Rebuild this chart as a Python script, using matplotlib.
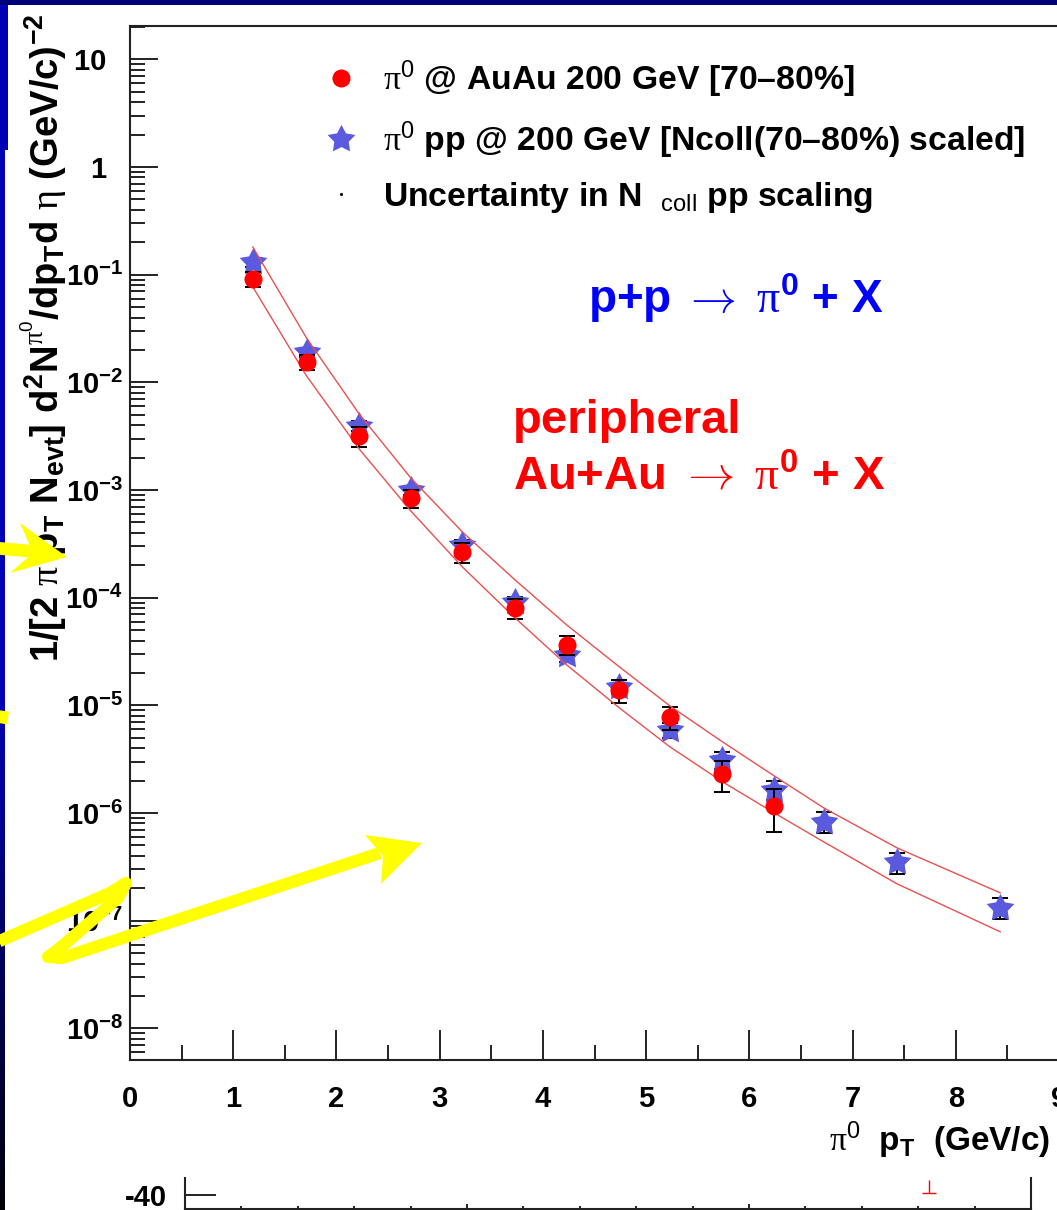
import matplotlib
matplotlib.use("Agg")
import matplotlib.pyplot as plt
import numpy as np
from matplotlib.ticker import MultipleLocator, LogLocator, NullFormatter, FuncFormatter, FixedLocator
from matplotlib.patches import Polygon, Rectangle
from matplotlib.lines import Line2D

plt.rcParams['font.family'] = ['Liberation Sans', 'DejaVu Sans']
plt.rcParams['font.weight'] = 'bold'
plt.rcParams['mathtext.fontset'] = 'custom'
plt.rcParams['mathtext.rm'] = 'Liberation Sans:bold'
plt.rcParams['mathtext.bf'] = 'Liberation Sans:bold'
plt.rcParams['mathtext.it'] = 'Liberation Serif:italic'
plt.rcParams['mathtext.sf'] = 'Liberation Sans:normal'
plt.rcParams['mathtext.tt'] = 'Liberation Serif:normal'
plt.rcParams['mathtext.cal'] = 'cmr10'
plt.rcParams['mathtext.default'] = 'rm'

W, H = 1057, 1210

# pi0 pT bins (GeV/c)
pt = [1.19, 1.71, 2.22, 2.72, 3.22, 3.73, 4.23, 4.74, 5.23, 5.74, 6.24, 6.72, 7.43, 8.43]

# peripheral AuAu (70-80%) yields, first 11 bins
auau = [0.091, 0.0155, 3.2e-3, 8.45e-4, 2.66e-4, 8.0e-5, 3.65e-5, 1.39e-5, 7.8e-6, 2.31e-6, 1.17e-6]
auau_rel = [0.16, 0.16, 0.21, 0.19, 0.21, 0.21, 0.20, 0.25, 0.24, 0.32, 0.43]

# pp scaled by Ncoll
pp = [0.131, 0.0191, 3.94e-3, 1.0e-3, 3.09e-4, 9.1e-5, 2.94e-5, 1.49e-5, 5.9e-6, 3.1e-6, 1.64e-6, 8.3e-7, 3.5e-7, 1.32e-7]
pp_rel = [0.10, 0.10, 0.10, 0.10, 0.12, 0.12, 0.14, 0.15, 0.16, 0.18, 0.20, 0.22, 0.22, 0.22]

# Ncoll uncertainty band (upper / lower edge)
band_hi = [0.1807, 0.02582, 5.09e-3, 1.295e-3, 4.08e-4, 1.463e-4, 5.59e-5, 2.28e-5, 9.89e-6,
           4.58e-6, 2.215e-6, 1.117e-6, 4.75e-7, 1.815e-7]
band_lo = [0.0769, 0.01147, 2.407e-3, 6.39e-4, 1.931e-4, 6.49e-5, 2.377e-5, 9.48e-6, 4.12e-6,
           1.949e-6, 1.004e-6, 5.40e-7, 2.20e-7, 7.89e-8]

# clipped point in the lower pad
stub_x = [13.2]
stub_top = [-34.7]
stub_bot = [-39.3]


def fx(px):
    return px / W


def fy(py):
    return 1 - py / H


# fat five-pointed star like ROOT marker 29
ang = np.pi / 2 + np.arange(10) * np.pi / 5
rad = np.where(np.arange(10) % 2 == 0, 1.0, 0.52)
star_shape = list(zip(rad * np.cos(ang), rad * np.sin(ang)))

fig = plt.figure(figsize=(W / 100, H / 100), dpi=100)
fig.patch.set_facecolor('white')

# slide background strips
bg = fig.add_axes([0, 0, 1, 1], zorder=-10)
bg.set_xlim(0, W)
bg.set_ylim(H, 0)
bg.axis('off')
grad = np.concatenate([np.full(700, 0.72), np.linspace(0.72, 0.03, 510)])
img = np.zeros((H, 1, 3))
img[:, 0, 2] = grad
bg.imshow(img, extent=[0, 5, H, 0], aspect='auto', interpolation='bilinear')
bg.imshow(img[:150], extent=[0, 8, 150, 0], aspect='auto')
bg.add_patch(Rectangle((0, 0), W, 4.5, color='#000078', lw=0))

# main frame
ax = fig.add_axes([fx(130), fy(1060), fx(1059) - fx(130), fy(26) - fy(1060)])
ax.set_facecolor('none')
ax.set_yscale('log')
ax.set_xlim(0, 9)
ax.set_ylim(5.08e-9, 20.4)

n = len(auau)
ax.errorbar(pt, pp, yerr=np.array(pp) * np.array(pp_rel), fmt='none', ecolor='black',
            elinewidth=1.4, capsize=6, capthick=1.4, zorder=1.8)
star, = ax.plot(pt, pp, ls='none', marker=star_shape, ms=21, color='#5a5ade', mew=0, zorder=2)
ax.errorbar(pt[:n], auau, yerr=np.array(auau) * np.array(auau_rel), fmt='none', ecolor='black',
            elinewidth=1.4, capsize=6, capthick=1.4, zorder=3)
circ, = ax.plot(pt[:n], auau, ls='none', marker='o', ms=13, color='#ff0000', mew=0, zorder=4)
ax.plot(pt, band_hi, color='#e85050', lw=1.0, zorder=3.5)
ax.plot(pt, band_lo, color='#e85050', lw=1.0, zorder=3.5)

for s in ax.spines.values():
    s.set_linewidth(1.5)
    s.set_color('#222222')

ax.xaxis.set_major_locator(MultipleLocator(1))
ax.xaxis.set_minor_locator(MultipleLocator(0.5))
ax.yaxis.set_major_locator(LogLocator(base=10, numticks=20))
ax.yaxis.set_minor_locator(LogLocator(base=10, subs=np.arange(2, 10), numticks=20))
ax.yaxis.set_minor_formatter(NullFormatter())


def ylab(v, pos):
    e = int(round(np.log10(v)))
    if e == 1:
        return '10  '
    if e == 0:
        return '1  '
    return r'$10^{%d}$' % e


ax.yaxis.set_major_formatter(FuncFormatter(ylab))
ax.tick_params(which='both', direction='in', top=False, right=False, width=1.4, color='#222222')
ax.tick_params(axis='x', which='major', length=21.5, labelsize=21, pad=18)
ax.tick_params(axis='x', which='minor', length=11)
ax.tick_params(axis='y', which='major', length=20, labelsize=21, pad=5)
ax.tick_params(axis='y', which='minor', length=11)

# legend
dot = Line2D([], [], ls='none', marker='.', ms=2.5, color='black')
ax.legend([circ, star, dot],
          [r'$\mathtt{\pi}^{\mathsf{0}}$ @ AuAu 200 GeV [70–80%]',
           r'$\mathtt{\pi}^{\mathsf{0}}$ pp @ 200 GeV [Ncoll(70–80%) scaled]',
           r'Uncertainty in N  $_{\mathsf{coll}}$ pp scaling'],
          loc='upper left', bbox_to_anchor=(fx(324.2), fy(58)), bbox_transform=fig.transFigure,
          frameon=False, fontsize=24.3, handlelength=1.0, handletextpad=0.75,
          labelspacing=0.58, borderpad=0, borderaxespad=0)

fig.text(fx(588), fy(313), r'p+p $\mathcal{\rightarrow}$ $\mathtt{\pi}^{\mathbf{0}}$ + X',
         color='#0000ff', fontsize=33, ha='left', va='baseline')
fig.text(fx(513), fy(433), 'peripheral', color='#ff0000', fontsize=34, ha='left', va='baseline')
fig.text(fx(513), fy(490), r'Au+Au $\mathcal{\rightarrow}$ $\mathtt{\pi}^{\mathbf{0}}$ + X',
         color='#ff0000', fontsize=34, ha='left', va='baseline')

fig.text(fx(44), fy(14),
         r'1/[2 $\mathtt{\pi}$ p$_{T}$ N$_{evt}$] d$^{2}$N$^{\mathtt{\pi}^{\mathsf{0}}}$/dp$_{T}$d $\mathtt{\eta}$ (GeV/c)$^{-2}$',
         rotation=90, ha='center', va='top', fontsize=27.5)
fig.text(fx(1050), fy(1140), r'$\mathtt{\pi}^{\mathsf{0}}$  p$_{T}$  (GeV/c)',
         ha='right', va='center', fontsize=24)

# lower pad stub
ax2 = fig.add_axes([fx(185), fy(1209), fx(1031) - fx(185), fy(1178) - fy(1209)])
ax2.set_facecolor('none')
ax2.set_xlim(0, 15)
ax2.set_ylim(-45, -34)
ax2.spines['top'].set_visible(False)
for s in ['left', 'bottom', 'right']:
    ax2.spines[s].set_linewidth(1.5)
    ax2.spines[s].set_color('#222222')
ax2.xaxis.set_major_locator(FixedLocator([5, 10]))
ax2.xaxis.set_minor_locator(MultipleLocator(1))
ax2.xaxis.set_major_formatter(NullFormatter())
ax2.yaxis.set_major_locator(FixedLocator([-40]))
ax2.yaxis.set_minor_locator(FixedLocator([-45]))
ax2.yaxis.set_major_formatter(FuncFormatter(lambda v, p: '-40'))
ax2.tick_params(which='both', direction='in', top=False, right=False, width=1.4, color='#222222')
ax2.tick_params(axis='x', which='major', length=3.5)
ax2.tick_params(axis='x', which='minor', length=2)
ax2.tick_params(axis='y', which='major', length=22, labelsize=21, pad=13)
ax2.tick_params(axis='y', which='minor', length=11)
ax2.vlines(stub_x, stub_bot, stub_top, color='red', lw=1.0)
ax2.plot(stub_x, stub_bot, ls='none', marker='_', ms=10, mew=1.0, color='red')

# yellow hand-drawn arrows on top
ov = fig.add_axes([0, 0, 1, 1], zorder=10)
ov.set_xlim(0, W)
ov.set_ylim(H, 0)
ov.axis('off')
yel = '#ffff00'
ov.plot([-5, 40], [548, 552], color=yel, lw=9.2, solid_capstyle='butt')
ov.add_patch(Polygon([(20, 523), (67, 557), (10, 573), (33, 553)], closed=True, color=yel, lw=0))
ov.plot([-5, 8], [716, 718], color=yel, lw=9.2, solid_capstyle='butt')
ov.plot([-5, 110, 126, 118, 60, 48, 62, 380], [943, 893, 883, 898, 948, 957, 958, 853],
        color=yel, lw=8.8, solid_joinstyle='round', solid_capstyle='butt')
ov.add_patch(Polygon([(365, 835), (422, 843), (381, 884), (383, 856)], closed=True, color=yel, lw=0))

fig.savefig('out.png', dpi=100)
